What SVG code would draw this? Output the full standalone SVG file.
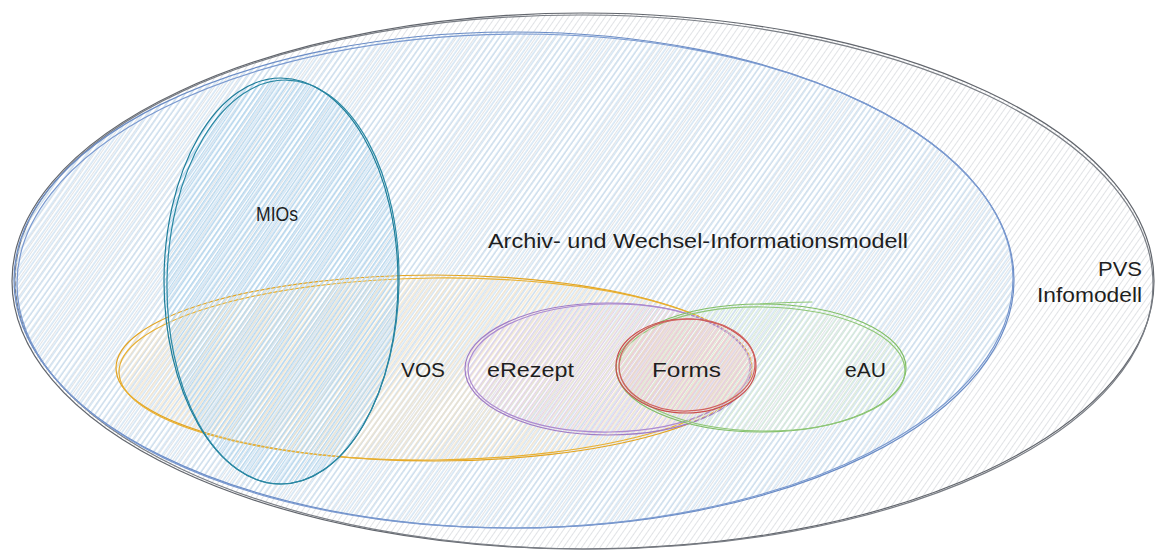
<svg xmlns="http://www.w3.org/2000/svg" width="1158" height="553" viewBox="0 0 1158 553">
  <defs>
    <!-- hachure fills, one per colour -->
    <pattern id="hGray" width="5" height="5" patternUnits="userSpaceOnUse" patternTransform="rotate(35)">
      <rect x="0" y="0" width="1" height="5" fill="#e1e3e6"/>
    </pattern>
    <pattern id="hBlue" width="4.6" height="5" patternUnits="userSpaceOnUse" patternTransform="rotate(35)">
      <rect x="2.3" y="0" width="1.1" height="5" fill="#c4dbef"/>
    </pattern>
    <pattern id="hTeal" width="4" height="5" patternUnits="userSpaceOnUse" patternTransform="rotate(34)">
      <rect x="1" y="0" width="1.2" height="5" fill="#b6d8ef"/>
    </pattern>
    <pattern id="hOrange" width="4.5" height="5" patternUnits="userSpaceOnUse" patternTransform="rotate(36)">
      <rect x="3" y="0" width="1.1" height="5" fill="#f4e3c6"/>
    </pattern>
    <pattern id="hPurple" width="4.5" height="5" patternUnits="userSpaceOnUse" patternTransform="rotate(35)">
      <rect x="1.6" y="0" width="1.1" height="5" fill="#e2d2ea"/>
    </pattern>
    <pattern id="hGreen" width="4.5" height="5" patternUnits="userSpaceOnUse" patternTransform="rotate(35)">
      <rect x="3.4" y="0" width="1.1" height="5" fill="#d9ecd6"/>
    </pattern>
    <pattern id="hRed" width="4" height="5" patternUnits="userSpaceOnUse" patternTransform="rotate(35)">
      <rect x="0.5" y="0" width="1.2" height="5" fill="#efcaca"/>
    </pattern>
  </defs>
  <style>
    .edge { fill: none; stroke-width: 1.2; stroke-linecap: round; }
    .lbl { font-family: "Liberation Sans", Arial, sans-serif; font-size: 20px; fill: #1e1e1e; }
  </style>

  <rect width="1158" height="553" fill="#ffffff"/>

  <g id="pvs-infomodell">
    <ellipse cx="583" cy="281" rx="571" ry="268" fill="url(#hGray)"/>
    <ellipse class="edge" stroke="#62666d" cx="583" cy="281" rx="571" ry="268"/>
    <ellipse class="edge" stroke="#7a7e85" cx="584" cy="282" rx="569" ry="267" transform="rotate(0.3 584 282)"/>
    <text class="lbl" x="1098" y="276" textLength="44" lengthAdjust="spacingAndGlyphs">PVS</text>
    <text class="lbl" x="1037" y="302" textLength="105" lengthAdjust="spacingAndGlyphs">Infomodell</text>
  </g>

  <g id="archiv-wechsel">
    <ellipse cx="514" cy="280" rx="500" ry="248" fill="url(#hBlue)"/>
    <ellipse class="edge" stroke="#6a8cc6" cx="514" cy="280" rx="500" ry="248"/>
    <ellipse class="edge" stroke="#7b9ad0" cx="515" cy="281" rx="498" ry="247" transform="rotate(-0.4 515 281)"/>
    <text class="lbl" x="488" y="248" textLength="420" lengthAdjust="spacingAndGlyphs">Archiv- und Wechsel-Informationsmodell</text>
  </g>

  <g id="vos">
    <ellipse cx="434" cy="368" rx="318" ry="93" fill="url(#hOrange)"/>
    <ellipse class="edge" stroke="#e3a420" cx="434" cy="368" rx="318" ry="93"/>
    <ellipse class="edge" stroke="#e8b032" cx="435" cy="369" rx="316" ry="91" transform="rotate(-0.6 435 369)"/>
    <text class="lbl" x="401" y="377" textLength="44" lengthAdjust="spacingAndGlyphs">VOS</text>
  </g>

  <g id="mios">
    <ellipse cx="281" cy="281" rx="117" ry="203" fill="url(#hTeal)"/>
    <ellipse class="edge" stroke="#1d7d99" cx="281" cy="281" rx="117" ry="203"/>
    <ellipse class="edge" stroke="#2a88a3" cx="283" cy="282" rx="116" ry="202" transform="rotate(1 283 282)"/>
    <text class="lbl" x="256" y="221" textLength="42" lengthAdjust="spacingAndGlyphs">MIOs</text>
  </g>

  <g id="erezept">
    <ellipse cx="608" cy="369" rx="143" ry="66" fill="url(#hPurple)"/>
    <ellipse class="edge" stroke="#a07cc6" cx="608" cy="369" rx="143" ry="66"/>
    <ellipse class="edge" stroke="#ad8bd0" cx="609" cy="368" rx="141" ry="64" transform="rotate(-0.8 609 368)"/>
    <text class="lbl" x="487" y="377" textLength="87" lengthAdjust="spacingAndGlyphs">eRezept</text>
  </g>

  <g id="eau">
    <ellipse cx="761" cy="368" rx="145" ry="64" fill="url(#hGreen)"/>
    <ellipse class="edge" stroke="#80be66" cx="761" cy="368" rx="145" ry="64"/>
    <ellipse class="edge" stroke="#8fc777" cx="762" cy="369" rx="143" ry="62" transform="rotate(0.8 762 369)"/>
    <path class="edge" stroke="#8fc777" d="M760 304 Q790 302 812 302"/>
    <text class="lbl" x="845" y="377" textLength="41" lengthAdjust="spacingAndGlyphs">eAU</text>
  </g>

  <g id="forms">
    <ellipse cx="686" cy="366" rx="70" ry="47" fill="url(#hRed)"/>
    <ellipse class="edge" stroke="#c94f4d" cx="686" cy="366" rx="70" ry="47"/>
    <ellipse class="edge" stroke="#d0625f" cx="687" cy="365" rx="68" ry="46" transform="rotate(-2 687 365)"/>
    <text class="lbl" x="652" y="377" textLength="69" lengthAdjust="spacingAndGlyphs">Forms</text>
  </g>
</svg>
